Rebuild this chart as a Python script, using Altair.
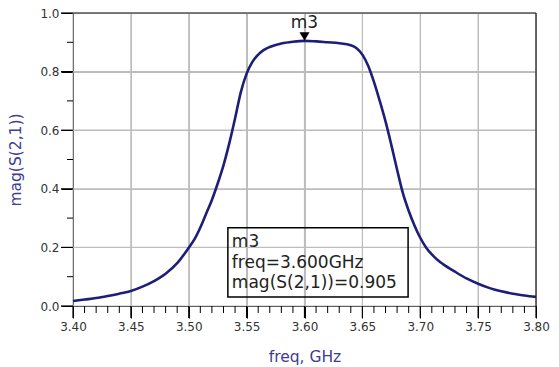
import altair as alt
import pandas as pd

# ---- data ----
freq = [3.400, 3.410, 3.420, 3.430, 3.440, 3.450, 3.460, 3.470, 3.480, 3.490,
        3.500, 3.505, 3.510, 3.515, 3.520, 3.525, 3.530, 3.535, 3.540, 3.545,
        3.550, 3.555, 3.560, 3.565, 3.570, 3.580, 3.590, 3.600, 3.610, 3.620,
        3.630, 3.640, 3.645, 3.650, 3.655, 3.660, 3.665, 3.670, 3.675, 3.680,
        3.685, 3.690, 3.695, 3.700, 3.705, 3.710, 3.715, 3.720, 3.730, 3.740,
        3.750, 3.760, 3.770, 3.780, 3.790, 3.800]
mag = [0.017, 0.022, 0.027, 0.034, 0.042, 0.051, 0.066, 0.085, 0.110, 0.146,
       0.199, 0.228, 0.268, 0.315, 0.362, 0.418, 0.480, 0.555, 0.640, 0.730,
       0.793, 0.833, 0.858, 0.874, 0.884, 0.896, 0.902, 0.905, 0.903, 0.900,
       0.897, 0.890, 0.880, 0.858, 0.820, 0.765, 0.700, 0.630, 0.550, 0.465,
       0.385, 0.325, 0.275, 0.233, 0.200, 0.176, 0.157, 0.142, 0.117, 0.094,
       0.076, 0.061, 0.050, 0.042, 0.036, 0.031]

x_major = [3.40, 3.45, 3.50, 3.55, 3.60, 3.65, 3.70, 3.75, 3.80]
x_minor = [3.41, 3.42, 3.43, 3.44, 3.46, 3.47, 3.48, 3.49,
           3.51, 3.52, 3.53, 3.54, 3.56, 3.57, 3.58, 3.59,
           3.61, 3.62, 3.63, 3.64, 3.66, 3.67, 3.68, 3.69,
           3.71, 3.72, 3.73, 3.74, 3.76, 3.77, 3.78, 3.79]
y_major = [0.0, 0.2, 0.4, 0.6, 0.8, 1.0]
y_minor = [0.1, 0.3, 0.5, 0.7, 0.9]

marker_name = "m3"
marker_freq = 3.600
marker_mag = 0.905
box_lines = ["m3", "freq=3.600GHz", "mag(S(2,1))=0.905"]
box_x = [3.5338, 3.6895]
box_y = [0.0307, 0.267]
box_text_y = 0.2

# ---- styling ----
W, H = 463, 293
LINE = "#1e1e78"
NAVY = "#3d3d94"
FONT = "DejaVu Sans"
GRID = "#bdbdbd"

df = pd.DataFrame({"freq": freq, "mag": mag})
xs = alt.Scale(domain=[3.4, 3.8], nice=False, zero=False)
ys = alt.Scale(domain=[0, 1], nice=False)

x_axis = alt.Axis(
    orient="bottom", values=x_major, format=".2f", tickSize=12,
    tickColor="black", domainColor="black",
    grid=True, gridColor=GRID, gridWidth=1,
    labelPadding=3, labelFontSize=12, labelFont=FONT, labelColor="#333333",
    labelFlush=False, labelOverlap=False,
    title="freq, GHz", titleFont=FONT, titleFontSize=15.5, titleFontWeight="normal",
    titleColor=NAVY, titlePadding=17)

y_axis = alt.Axis(
    orient="left", values=y_major, format=".1f", tickSize=12,
    tickColor="black", domainColor="black",
    grid=True, gridColor=GRID, gridWidth=1,
    labelPadding=2, labelFontSize=12, labelFont=FONT, labelColor="#333333",
    labelFlush=False, labelOverlap=False,
    title="mag(S(2,1))", titleFont=FONT, titleFontSize=15.5, titleFontWeight="normal",
    titleColor=NAVY, titlePadding=16)


def X(field):
    return alt.X(field, scale=xs, axis=x_axis)


def Y(field):
    return alt.Y(field, scale=ys, axis=y_axis)


xmaj_df = pd.DataFrame({"freq": x_major})
ymaj_df = pd.DataFrame({"mag": y_major})
xmin_df = pd.DataFrame({"freq": x_minor})
ymin_df = pd.DataFrame({"mag": y_minor})

# grid lines
xgrid = alt.Chart(xmaj_df).mark_rule(color=GRID, strokeWidth=1.2).encode(
    x=X("freq:Q"), y=alt.value(0), y2=alt.value(H))
ygrid = alt.Chart(ymaj_df).mark_rule(color=GRID, strokeWidth=1.2).encode(
    y=Y("mag:Q"), x=alt.value(0), x2=alt.value(W))

# curve
line = alt.Chart(df).mark_line(color=LINE, strokeWidth=2.6, interpolate="monotone").encode(
    x=X("freq:Q"), y=Y("mag:Q"))

# major and minor ticks, placed through the scales just outside the frame
xmajor_t = alt.Chart(xmaj_df).mark_rule(color="black", strokeWidth=1.2).encode(
    x=X("freq:Q"), y=alt.value(H), y2=alt.value(H + 12))
ymajor_t = alt.Chart(ymaj_df).mark_rule(color="black", strokeWidth=1.2).encode(
    y=Y("mag:Q"), x=alt.value(0), x2=alt.value(-12))
xminor_t = alt.Chart(xmin_df).mark_rule(color="black", strokeWidth=1).encode(
    x=X("freq:Q"), y=alt.value(H), y2=alt.value(H + 7))
yminor_t = alt.Chart(ymin_df).mark_rule(color="black", strokeWidth=1).encode(
    y=Y("mag:Q"), x=alt.value(0), x2=alt.value(-6))

# frame (top and right edges; left/bottom are the axis lines)
frame = alt.Chart(df.head(1)).mark_rule(color="#222222", strokeWidth=1.2).encode(
    x=alt.value(0), x2=alt.value(W), y=alt.value(0))
frame_r = alt.Chart(df.head(1)).mark_rule(color="#222222", strokeWidth=1.2).encode(
    x=alt.value(W), y=alt.value(0), y2=alt.value(H))

mdf = pd.DataFrame({"freq": [marker_freq], "mag": [marker_mag], "name": [marker_name]})
tri = alt.Chart(mdf).mark_point(shape="M-1,-1.7L1,-1.7L0,0Z", filled=True, size=100,
                                color="black", opacity=1).encode(
    x=X("freq:Q"), y=Y("mag:Q"))
mlabel = alt.Chart(mdf).mark_text(font=FONT, fontSize=17, color="#222222", dy=-13,
                                  baseline="alphabetic", align="center").encode(
    x=X("freq:Q"), y=Y("mag:Q"), text="name:N")

bdf = pd.DataFrame({"freq": [box_x[0]], "freq2": [box_x[1]],
                    "mag": [box_y[0]], "mag2": [box_y[1]]})
tdf = pd.DataFrame({"freq": [box_x[0]], "mag": [box_text_y]})
box = alt.Chart(bdf).mark_rect(fillOpacity=0, stroke="black", strokeWidth=1.5).encode(
    x=X("freq:Q"), x2="freq2:Q", y=Y("mag:Q"), y2="mag2:Q")
btext = alt.Chart(tdf).mark_text(text=box_lines, font=FONT, fontSize=17, color="#222222",
                                 align="left", baseline="alphabetic", lineHeight=20.5,
                                 dx=4).encode(x=X("freq:Q"), y=Y("mag:Q"))

chart = alt.layer(xgrid, ygrid, line, xmajor_t, ymajor_t, xminor_t, yminor_t,
                  frame, frame_r, box, btext, tri, mlabel).properties(
    width=W, height=H,
    autosize=alt.AutoSizeParams(type="none"),
    padding={"left": 65, "top": 5, "right": 15, "bottom": 60},
    background="white",
).configure_view(stroke="#222222", strokeWidth=1)

chart.save("out.html", embed_options={"renderer": "svg", "actions": False})
